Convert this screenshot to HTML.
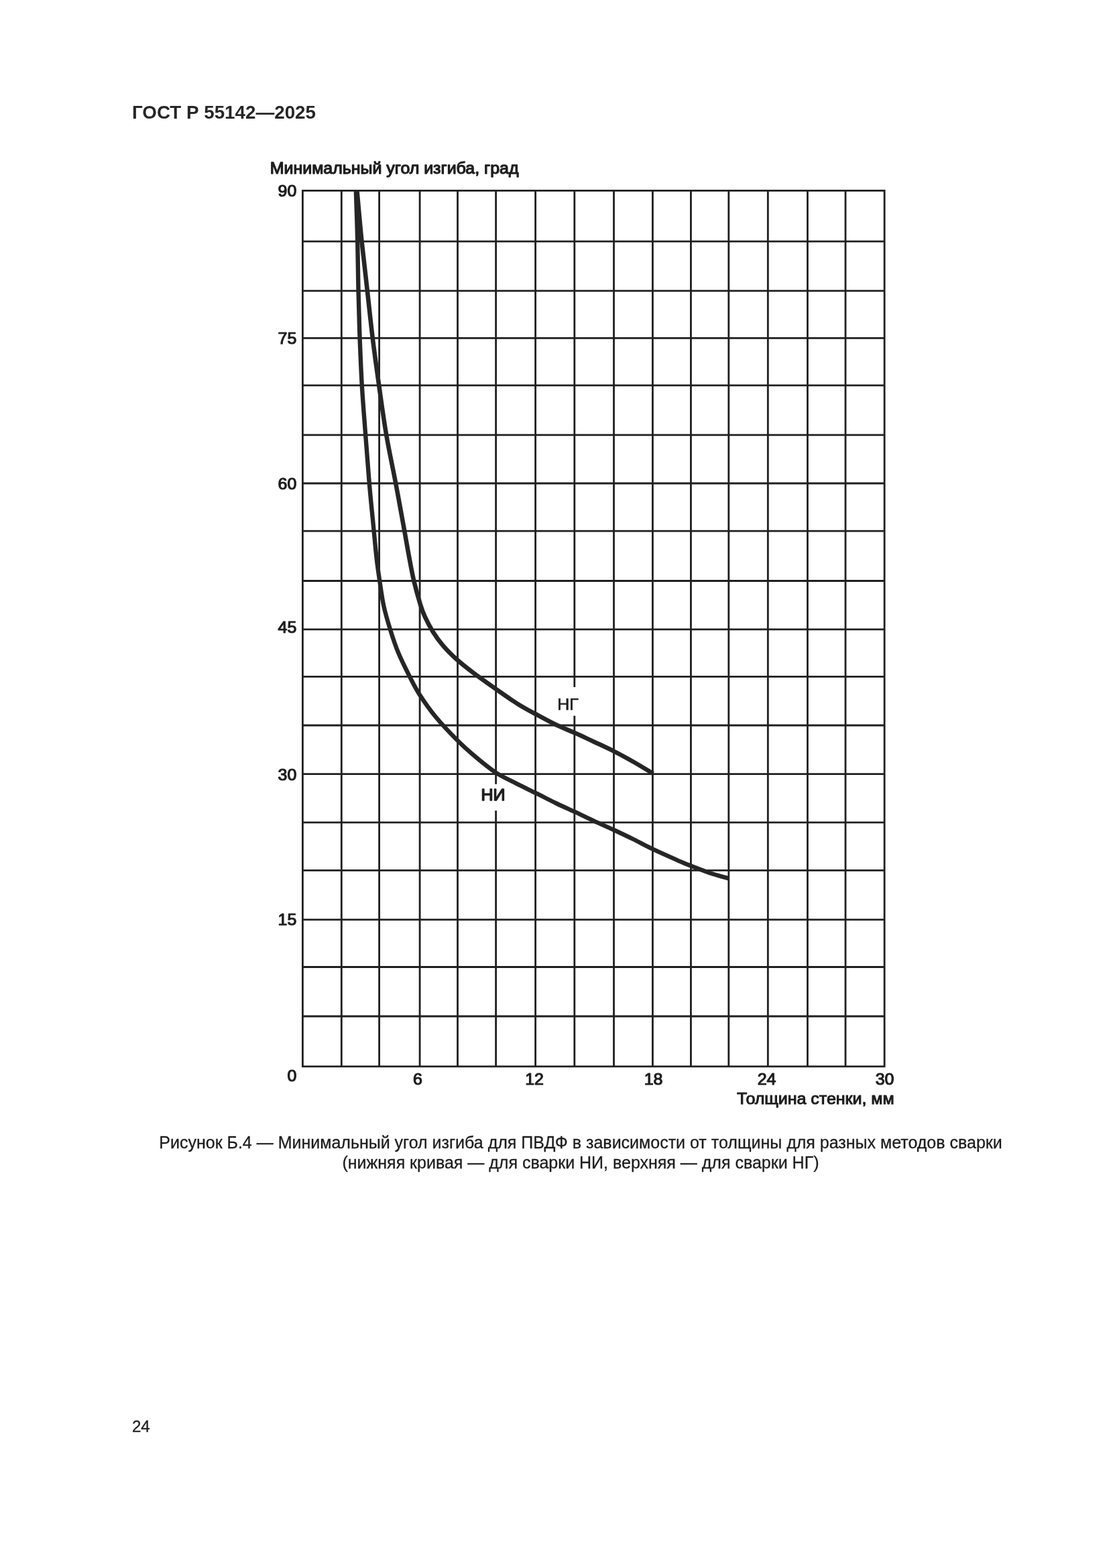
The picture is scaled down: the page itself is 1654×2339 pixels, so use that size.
<!DOCTYPE html>
<html lang="ru">
<head>
<meta charset="utf-8">
<title>ГОСТ Р 55142—2025</title>
<style>
html,body{margin:0;padding:0;background:#fff;}
body{width:1654px;height:2339px;position:relative;overflow:hidden;font-family:"Liberation Sans",Arial,sans-serif;color:#2b2b2b;}
.hdr{position:absolute;left:197px;top:152px;font-size:27.78px;font-weight:bold;line-height:32px;white-space:nowrap;color:#262626;}
.cap{position:absolute;left:166px;width:1400px;top:1689px;font-size:25px;line-height:30px;text-align:center;white-space:nowrap;color:#1c1c1c;-webkit-text-stroke:0.3px #1c1c1c;}
.pn{position:absolute;left:196.9px;top:2113.6px;font-size:24.2px;line-height:28px;color:#1c1c1c;-webkit-text-stroke:0.3px #1c1c1c;}
svg.chart{position:absolute;left:0;top:0;}
.grid{fill:none;stroke:#1f1f1f;stroke-width:2.8;}
.curve{fill:none;stroke:#262626;stroke-width:6.6;stroke-linecap:butt;stroke-linejoin:round;}
.curve.ni{stroke-width:6.4;}
.curve.ng{stroke-width:6.6;}
.lbl text{font-family:"Liberation Sans",Arial,sans-serif;font-size:24px;fill:#1e1e1e;stroke:#1e1e1e;stroke-width:1.15;stroke-linejoin:round;}
.lbl text.ttl{stroke-width:1.25;}
.lbl text.xt{stroke-width:1.1;}
.lbl text.thin{stroke-width:0.7;}
.lbl text.fat{stroke-width:1.5;}
</style>
</head>
<body>
<div class="hdr">ГОСТ Р 55142—2025</div>
<svg class="chart" width="1654" height="2339" viewBox="0 0 1654 2339">
<path class="grid" d="M451.4 283.0 V1592.1 M509.3 283.0 V1592.1 M565.6 283.0 V1592.1 M626.1 283.0 V1592.1 M682.5 283.0 V1592.1 M739.6 283.0 V1592.1 M798.6 283.0 V1592.1 M856.8 283.0 V1592.1 M915.5 283.0 V1592.1 M973.4 283.0 V1592.1 M1030.4 283.0 V1592.1 M1086.8 283.0 V1592.1 M1145.3 283.0 V1592.1 M1204.4 283.0 V1592.1 M1261.0 283.0 V1592.1 M1319.1 283.0 V1592.1 M450.1 284.3 H1320.4 M450.1 360.2 H1320.4 M450.1 433.8 H1320.4 M450.1 504.3 H1320.4 M450.1 574.9 H1320.4 M450.1 648.8 H1320.4 M450.1 721.0 H1320.4 M450.1 792.1 H1320.4 M450.1 866.5 H1320.4 M450.1 938.8 H1320.4 M450.1 1009.3 H1320.4 M450.1 1082.0 H1320.4 M450.1 1154.6 H1320.4 M450.1 1226.9 H1320.4 M450.1 1298.4 H1320.4 M450.1 1371.9 H1320.4 M450.1 1442.5 H1320.4 M450.1 1516.0 H1320.4 M450.1 1590.8 H1320.4"/>
<rect x="826" y="1025" width="44" height="42.7" fill="#fff"/>
<rect x="714" y="1169.7" width="44" height="39.5" fill="#fff"/>
<path class="curve ni" d="M530.8 283.5 C531.2 296.2 532.6 335.0 533.2 360.0 C533.8 385.0 533.9 409.2 534.5 433.3 C535.1 457.4 535.7 481.0 536.6 504.7 C537.5 528.4 538.4 551.2 539.8 575.3 C541.2 599.4 543.4 625.0 545.2 649.3 C547.0 673.6 548.8 697.4 550.8 721.0 C552.8 744.6 555.7 771.8 557.5 790.7 C559.3 809.6 560.3 821.6 561.8 834.2 C563.2 846.8 564.5 854.8 566.2 866.4 C568.0 878.0 569.7 891.8 572.3 903.9 C574.9 916.0 578.3 927.1 581.9 938.7 C585.5 950.3 589.1 961.8 594.0 973.6 C598.9 985.4 605.7 998.8 611.0 1009.3 C616.3 1019.8 619.6 1026.6 626.0 1036.5 C632.4 1046.4 640.1 1057.6 649.3 1068.8 C658.5 1080.0 671.4 1093.6 681.3 1103.5 C691.1 1113.4 698.8 1120.2 708.4 1128.3 C718.0 1136.4 729.4 1145.8 739.2 1152.3 C749.1 1158.8 757.5 1162.2 767.5 1167.4 C777.5 1172.6 789.2 1178.1 799.5 1183.2 C809.8 1188.3 819.3 1193.3 829.0 1198.0 C838.7 1202.7 848.1 1206.8 857.6 1211.2 C867.1 1215.6 875.9 1220.0 885.7 1224.6 C895.5 1229.1 906.6 1233.9 916.5 1238.5 C926.4 1243.1 935.3 1247.3 944.8 1252.0 C954.3 1256.7 962.8 1261.5 973.6 1266.6 C984.4 1271.7 1000.0 1278.6 1009.4 1282.8 C1018.8 1287.0 1022.1 1288.4 1030.3 1291.6 C1038.5 1294.8 1049.1 1299.0 1058.6 1302.2 C1068.1 1305.4 1082.6 1309.1 1087.4 1310.5"/>
<path class="curve ng" d="M532.4 283.5 C533.6 296.2 536.9 335.0 539.5 360.0 C542.1 385.0 545.1 409.2 547.8 433.3 C550.5 457.4 552.9 481.0 555.8 504.7 C558.7 528.4 561.9 551.2 565.3 575.3 C568.7 599.4 572.1 625.0 576.3 649.3 C580.4 673.6 585.8 697.4 590.2 721.0 C594.7 744.6 599.6 771.8 603.0 790.7 C606.4 809.6 608.4 821.6 610.8 834.2 C613.2 846.8 614.6 855.1 617.3 866.4 C620.0 877.7 624.3 893.1 627.0 902.0 C629.7 910.9 630.5 913.1 633.6 919.7 C636.7 926.4 640.9 934.7 645.4 941.9 C649.9 949.1 654.6 955.8 660.6 962.8 C666.6 969.8 673.8 977.0 681.3 983.8 C688.8 990.6 696.0 996.2 705.9 1003.6 C715.8 1011.0 729.3 1020.6 740.4 1028.4 C751.5 1036.2 762.5 1044.0 772.4 1050.2 C782.2 1056.4 790.1 1060.4 799.5 1065.5 C808.9 1070.6 819.4 1076.4 829.0 1081.0 C838.6 1085.6 847.9 1089.1 857.4 1093.3 C866.9 1097.5 876.0 1101.9 885.7 1106.4 C895.4 1111.0 905.6 1115.6 915.5 1120.6 C925.4 1125.6 935.0 1130.9 944.8 1136.5 C954.6 1142.1 969.3 1151.1 974.2 1154.0"/>
<g class="lbl">
<text class="ttl" transform="translate(402.8 259.3) scale(1.04 1)">Минимальный угол изгиба, град</text>
<text transform="translate(442.3 293.0) scale(1.04 1)" text-anchor="end">90</text>
<text transform="translate(442.3 513.3) scale(1.04 1)" text-anchor="end">75</text>
<text transform="translate(442.3 729.9) scale(1.04 1)" text-anchor="end">60</text>
<text transform="translate(442.3 944.2) scale(1.04 1)" text-anchor="end">45</text>
<text transform="translate(442.3 1164.0) scale(1.04 1)" text-anchor="end">30</text>
<text transform="translate(442.3 1380.4) scale(1.04 1)" text-anchor="end">15</text>
<text transform="translate(442.3 1613.0) scale(1.04 1)" text-anchor="end">0</text>
<text transform="translate(623.0 1618.4) scale(1.04 1)" text-anchor="middle">6</text>
<text transform="translate(797.0 1618.4) scale(1.04 1)" text-anchor="middle">12</text>
<text transform="translate(974.5 1618.4) scale(1.04 1)" text-anchor="middle">18</text>
<text transform="translate(1143.5 1618.4) scale(1.04 1)" text-anchor="middle">24</text>
<text transform="translate(1319.5 1618.4) scale(1.04 1)" text-anchor="middle">30</text>
<text class="xt" transform="translate(1333.6 1646.6) scale(1.04 1)" text-anchor="end">Толщина стенки, мм</text>
<text class="thin" transform="translate(847.0 1059.0) scale(1.04 1)" text-anchor="middle">НГ</text>
<text class="fat" transform="translate(735.4 1194.3) scale(1.04 1)" text-anchor="middle">НИ</text>
</g>
</svg>

<div class="cap">Рисунок Б.4 — Минимальный угол изгиба для ПВДФ в зависимости от толщины для разных методов сварки<br>(нижняя кривая — для сварки НИ, верхняя — для сварки НГ)</div>
<div class="pn">24</div>
</body>
</html>
